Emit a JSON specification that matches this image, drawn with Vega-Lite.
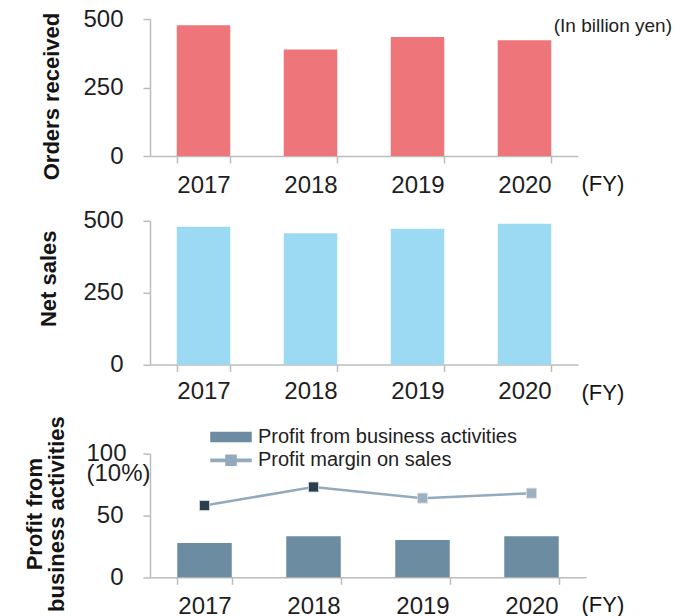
{
  "$schema": "https://vega.github.io/schema/vega-lite/v6.json",
  "padding": {"left": 23, "top": 7, "right": 5, "bottom": 2},
  "background": "white",
  "spacing": 11.8,
  "config": {
    "view": {"stroke": null},
    "axis": {
      "domainColor": "#bcbcbc", "tickColor": "#bcbcbc", "domainWidth": 1.5, "tickWidth": 1.5, "tickSize": 7,
      "labelFont": "Liberation Sans", "labelFontSize": 24, "labelColor": "#1e1e1e",
      "titleFont": "Liberation Sans", "titleColor": "#141414", "grid": false
    },
    "axisY": {"labelPadding": 20, "titleFontSize": 22, "titleFontWeight": "bold", "titleAlign": "center", "titleBaseline": "middle", "titleAngle": -90, "titleLineHeight": 22},
    "axisX": {"labelPadding": 22, "labelAngle": 0, "labelBaseline": "middle", "tickBand": "extent", "titleFontSize": 22, "titleFontWeight": "normal", "titleAlign": "left", "titleBaseline": "middle", "titleAngle": 0}
  },
  "datasets": {
    "fy": [
      {"year": "2017", "orders": 477, "sales": 479, "profit": 27.8, "margin": 5.8},
      {"year": "2018", "orders": 389, "sales": 457, "profit": 33.2, "margin": 7.3},
      {"year": "2019", "orders": 434, "sales": 472, "profit": 30.2, "margin": 6.4},
      {"year": "2020", "orders": 422, "sales": 490, "profit": 33.2, "margin": 6.8}
    ]
  },
  "vconcat": [
    {
      "width": 428, "height": 137,
      "data": {"name": "fy"},
      "title": {"text": "(In billion yen)", "anchor": "end", "orient": "top", "frame": "group", "offset": 0, "baseline": "middle", "dx": 94, "dy": 38, "fontSize": 19, "fontWeight": "normal", "font": "Liberation Sans", "color": "#222"},
      "mark": {"type": "bar", "color": "#ee767a"},
      "encoding": {
        "x": {"field": "year", "type": "ordinal", "scale": {"paddingInner": 0.5, "paddingOuter": 0.25},
              "axis": {"title": "(FY)", "titleX": 431, "titleY": 27.3}},
        "y": {"field": "orders", "type": "quantitative", "scale": {"domain": [0, 500], "nice": false},
              "axis": {"values": [0, 250, 500], "title": "Orders received", "titleX": -98.7, "titleY": 77}}
      }
    },
    {
      "width": 428, "height": 143.8,
      "data": {"name": "fy"},
      "mark": {"type": "bar", "color": "#9cd9f3"},
      "encoding": {
        "x": {"field": "year", "type": "ordinal", "scale": {"paddingInner": 0.5, "paddingOuter": 0.25},
              "axis": {"title": "(FY)", "titleX": 431, "titleY": 27.4, "labelPadding": 20}},
        "y": {"field": "sales", "type": "quantitative", "scale": {"domain": [0, 500], "nice": false},
              "axis": {"values": [0, 250, 500], "title": "Net sales", "titleX": -101.7, "titleY": 57.5}}
      }
    },
    {
      "width": 436, "height": 123.7,
      "data": {"name": "fy"},
      "resolve": {"scale": {"y": "independent"}},
      "layer": [
        {
          "mark": {"type": "bar", "color": "#6b8ca1"},
          "encoding": {
            "x": {"field": "year", "type": "ordinal", "scale": {"paddingInner": 0.5, "paddingOuter": 0.25},
                  "axis": {"title": "(FY)", "titleX": 431, "titleY": 27.3}},
            "y": {"field": "profit", "type": "quantitative", "scale": {"domain": [0, 100], "nice": false},
                  "axis": {
                    "values": [0, 50, 100],
                    "title": ["\u00a0\u00a0\u00a0\u00a0\u00a0Profit from", "business activities"],
                    "titleX": -115.2, "titleY": 60,
                    "labelExpr": "datum.value == 100 ? ['100', '(10%)'] : datum.label",
                    "labelLineHeight": 20,
                    "labelAlign": {"condition": {"test": "datum.value == 100", "value": "left"}, "value": "right"},
                    "labelPadding": {"condition": {"test": "datum.value == 100", "value": 57}, "value": 20}
                  }},
            "color": {
              "datum": "Profit from business activities",
              "scale": {"domain": ["Profit from business activities", "Profit margin on sales"], "range": ["#6b8ca1", "#93aabc"]},
              "legend": {
                "title": null, "orient": "none", "legendX": 70, "legendY": 407, "padding": 0,
                "labelFont": "Liberation Sans", "labelFontSize": 20, "labelColor": "#1e1e1e", "labelLimit": 400,
                "labelOffset": 16, "rowPadding": 2.3, "symbolSize": 400,
                "encode": {
                  "symbols": {
                    "update": {
                      "shape": {"signal": "datum.value === 'Profit margin on sales' ? 'M-2,-0.11H2V0.11H-2Z M-0.5,-0.5H0.5V0.5H-0.5Z' : 'M-2,-0.45H2V0.45H-2Z'"},
                      "fill": {"signal": "datum.value === 'Profit margin on sales' ? '#93aabc' : '#6b8ca1'"},
                      "stroke": {"value": "transparent"},
                      "opacity": {"value": 1},
                      "fillOpacity": {"value": 1},
                      "size": {"value": 400}
                    }
                  }
                }
              }
            }
          }
        },
        {
          "mark": {"type": "line", "strokeWidth": 2.5},
          "encoding": {
            "x": {"field": "year", "type": "ordinal"},
            "y": {"field": "margin", "type": "quantitative", "scale": {"domain": [0, 10], "nice": false}, "axis": null},
            "color": {"datum": "Profit margin on sales"}
          }
        },
        {
          "mark": {"type": "point", "shape": "square", "size": 100, "filled": true, "opacity": 1, "stroke": "#d6dee5", "strokeWidth": 0.8},
          "encoding": {
            "x": {"field": "year", "type": "ordinal"},
            "y": {"field": "margin", "type": "quantitative", "scale": {"domain": [0, 10], "nice": false}, "axis": null},
            "color": {"condition": {"test": "datum.year == '2017' || datum.year == '2018'", "value": "#2b3e4d"}, "value": "#9cb0c0"}
          }
        }
      ]
    }
  ]
}
